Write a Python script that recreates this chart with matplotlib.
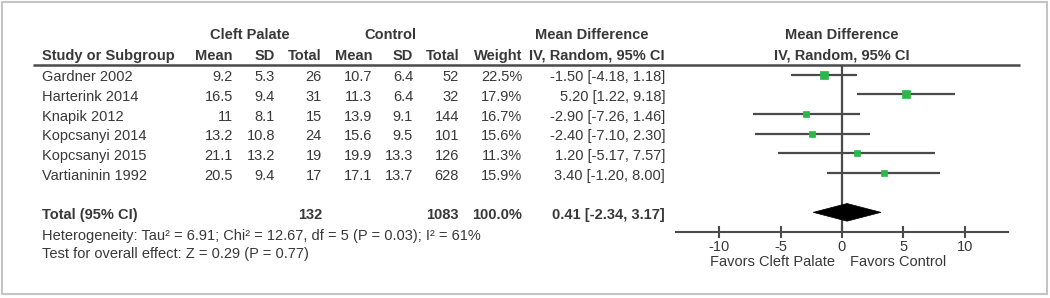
import numpy as np
import matplotlib
matplotlib.use("Agg")
import matplotlib.pyplot as plt
from matplotlib.patches import Rectangle, Polygon

plt.rcParams['font.family'] = ['Liberation Sans', 'DejaVu Sans']
plt.rcParams['axes.unicode_minus'] = False

# data
studies = ["Gardner 2002", "Harterink 2014", "Knapik 2012",
           "Kopcsanyi 2014", "Kopcsanyi 2015", "Vartianinin 1992"]
cp_mean = [9.2, 16.5, 11, 13.2, 21.1, 20.5]
cp_sd = [5.3, 9.4, 8.1, 10.8, 13.2, 9.4]
cp_n = [26, 31, 15, 24, 19, 17]
ct_mean = [10.7, 11.3, 13.9, 15.6, 19.9, 17.1]
ct_sd = [6.4, 6.4, 9.1, 9.5, 13.3, 13.7]
ct_n = [52, 32, 144, 101, 126, 628]
weight = [22.5, 17.9, 16.7, 15.6, 11.3, 15.9]
md = [-1.50, 5.20, -2.90, -2.40, 1.20, 3.40]
md_lo = [-4.18, 1.22, -7.26, -7.10, -5.17, -1.20]
md_hi = [1.18, 9.18, 1.46, 2.30, 7.57, 8.00]

tot_cp_n = 132
tot_ct_n = 1083
tot_weight = 100.0
tot_md, tot_lo, tot_hi = 0.41, -2.34, 3.17

het_text = "Heterogeneity: Tau\u00b2 = 6.91; Chi\u00b2 = 12.67, df = 5 (P = 0.03); I\u00b2 = 61%"
test_text = "Test for overall effect: Z = 0.29 (P = 0.77)"
ticks = [-10, -5, 0, 5, 10]

txt = '#383838'
line_c = '#4a4a4a'
green = '#2bb84a'
fs = 10.5

fig = plt.figure(figsize=(10.5, 2.98), dpi=100)

# overlay in pixel coordinates for the table
ax0 = fig.add_axes([0, 0, 1, 1])
ax0.set_xlim(0, 1050)
ax0.set_ylim(298, 0)
ax0.axis('off')
ax0.add_patch(Rectangle((2, 2), 1045, 292, fill=False, ec='#c4c4c4', lw=1.5))

row0, step = 65, (232 - 65) / 8.5
def row_px(i):
    return row0 + (i + 0.5) * step + 2.5

# headers
ax0.text(250, 35, "Cleft Palate", ha='center', va='center', fontsize=fs, fontweight='bold', color=txt)
ax0.text(390, 35, "Control", ha='center', va='center', fontsize=fs, fontweight='bold', color=txt)
ax0.text(592, 35, "Mean Difference", ha='center', va='center', fontsize=fs, fontweight='bold', color=txt)
ax0.text(842, 35, "Mean Difference", ha='center', va='center', fontsize=fs, fontweight='bold', color=txt)
ax0.text(842, 56, "IV, Random, 95% CI", ha='center', va='center', fontsize=fs, fontweight='bold', color=txt)
ax0.text(42, 56, "Study or Subgroup", ha='left', va='center', fontsize=fs, fontweight='bold', color=txt)
col_right = [233, 275, 322, 372, 413, 459, 522, 665]
heads = ["Mean", "SD", "Total", "Mean", "SD", "Total", "Weight", "IV, Random, 95% CI"]
for x, h in zip(col_right, heads):
    ax0.text(x, 56, h, ha='right', va='center', fontsize=fs, fontweight='bold', color=txt)
ax0.plot([33, 1020], [65, 65], color=line_c, lw=1.8, solid_capstyle='butt')

# study rows
for i, s in enumerate(studies):
    y = row_px(i)
    vals = [f"{cp_mean[i]:g}", f"{cp_sd[i]:g}", f"{cp_n[i]}",
            f"{ct_mean[i]:g}", f"{ct_sd[i]:g}", f"{ct_n[i]}",
            f"{weight[i]:.1f}%",
            f"{md[i]:.2f} [{md_lo[i]:.2f}, {md_hi[i]:.2f}]"]
    ax0.text(42, y, s, ha='left', va='center', fontsize=fs, color=txt)
    for x, v in zip(col_right, vals):
        ax0.text(x, y, v, ha='right', va='center', fontsize=fs, color=txt)

# total row
y = row_px(7)
ax0.text(42, y, "Total (95% CI)", ha='left', va='center', fontsize=fs, fontweight='bold', color=txt)
ax0.text(322, y, f"{tot_cp_n}", ha='right', va='center', fontsize=fs, fontweight='bold', color=txt)
ax0.text(459, y, f"{tot_ct_n}", ha='right', va='center', fontsize=fs, fontweight='bold', color=txt)
ax0.text(522, y, f"{tot_weight:.1f}%", ha='right', va='center', fontsize=fs, fontweight='bold', color=txt)
ax0.text(665, y, f"{tot_md:.2f} [{tot_lo:.2f}, {tot_hi:.2f}]", ha='right', va='center',
         fontsize=fs, fontweight='bold', color=txt)
ax0.text(42, 236, het_text, ha='left', va='center', fontsize=fs, color=txt)
ax0.text(42, 254, test_text, ha='left', va='center', fontsize=fs, color=txt)

ax0.text(835, 262, "Favors Cleft Palate", ha='right', va='center', fontsize=fs, color=txt)
ax0.text(850, 262, "Favors Control", ha='left', va='center', fontsize=fs, color=txt)

# forest plot
ax = fig.add_axes([676 / 1050, 1 - 232 / 298, (1008 - 676) / 1050, (232 - 65) / 298])
ax.set_xlim(-13.5, 13.5)
ax.set_ylim(8, -0.5)
ax.patch.set_alpha(0)
for sp in ['top', 'left', 'right']:
    ax.spines[sp].set_visible(False)
ax.spines['bottom'].set_color(line_c)
ax.spines['bottom'].set_linewidth(1.5)
ax.set_yticks([])
ax.set_xticks(ticks)
ax.tick_params(axis='x', direction='inout', length=9, width=1.5, color=line_c,
               labelsize=fs, labelcolor=txt, pad=1)
ax.axvline(0, color=line_c, lw=1.6, zorder=1)

rows = np.arange(len(studies))
ax.hlines(rows, md_lo, md_hi, color=line_c, lw=1.6, zorder=2)
for i in rows:
    ax.plot(md[i], i, 's', ms=1.2 * np.sqrt(weight[i]), color=green,
            mec=green, mew=0.5, zorder=3)

ax.add_patch(Polygon([(tot_lo, 7), (tot_md, 7 - 0.45), (tot_hi, 7), (tot_md, 7 + 0.45)],
                     closed=True, fc='black', ec='black', lw=0.5, zorder=3))

fig.savefig("out.png", dpi=100)
